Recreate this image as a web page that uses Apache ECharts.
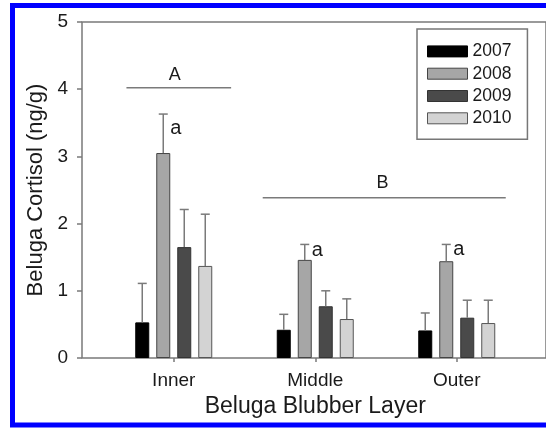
<!DOCTYPE html>
<html>
<head>
<meta charset="utf-8">
<script src="https://cdn.jsdelivr.net/npm/echarts@6/dist/echarts.min.js"></script>
<style>
html,body{margin:0;padding:0;background:#fff;}
#c{width:546px;height:428px;}
</style>
</head>
<body>
<div id="c"></div>
<script>
// ---- data ----
const categories = ['Inner', 'Middle', 'Outer'];
const years = ['2007', '2008', '2009', '2010'];
const mean2007 = [0.53, 0.42, 0.41];
const mean2008 = [3.05, 1.46, 1.44];
const mean2009 = [1.65, 0.77, 0.60];
const mean2010 = [1.37, 0.58, 0.52];
const upper2007 = [1.11, 0.65, 0.67];
const upper2008 = [3.63, 1.69, 1.69];
const upper2009 = [2.21, 1.00, 0.86];
const upper2010 = [2.14, 0.88, 0.86];
const yTicks = [0, 1, 2, 3, 4, 5];
// group annotations (x in category units, y in ng/g)
const groupLabels = ['A', 'B'];
const groupLineFrom = [-0.332, 0.643];
const groupLineTo = [0.417, 2.382];
const groupLineY = [4.02, 2.385];
const groupLabelX = [0.014, 1.5];
const groupLabelY = [4.21, 2.60];
// significance letters (on the 2008 bars)
const sigLabels = ['a', 'a', 'a'];
const sigCats = [0, 1, 2];
const sigY = [3.41, 1.60, 1.61];

const means = [mean2007, mean2008, mean2009, mean2010];
const uppers = [upper2007, upper2008, upper2009, upper2010];
const colors = ['#000000', '#a6a6a6', '#4a4a4a', '#d3d3d3'];
const borders = ['#000000', '#444444', '#333333', '#555555'];
const FONT = 'Liberation Sans, Arial, sans-serif';
const BAR_W = 14, BAR_STEP = 21;

const chart = echarts.init(document.getElementById('c'), null, {renderer: 'canvas'});

const series = [];
years.forEach((y, s) => {
  series.push({
    name: y, type: 'bar', xAxisIndex: 1, yAxisIndex: 1,
    barWidth: BAR_W, barGap: '50%',
    itemStyle: {color: colors[s], borderColor: borders[s], borderWidth: 1},
    data: means[s], z: 2, silent: true
  });
});
years.forEach((y, s) => {
  const off = (s - 1.5) * BAR_STEP;
  series.push({
    name: 'err' + y, type: 'custom', xAxisIndex: 1, yAxisIndex: 1, z: 3, silent: true,
    data: categories.map((c, i) => [i, uppers[s][i], means[s][i]]),
    renderItem: function (params, api) {
      const c = api.value(0);
      const base = api.coord([c, api.value(2)]);
      const top = api.coord([c, api.value(1)]);
      const x = base[0] + off;
      const st = {stroke: '#7a7a7a', lineWidth: 1.5};
      return {type: 'group', children: [
        {type: 'line', shape: {x1: x, y1: base[1], x2: x, y2: top[1]}, style: st},
        {type: 'line', shape: {x1: x - 4.5, y1: top[1], x2: x + 4.5, y2: top[1]}, style: st}
      ]};
    }
  });
});
// group lines + letters
series.push({
  type: 'custom', name: 'groups', xAxisIndex: 0, yAxisIndex: 0, z: 4, silent: true,
  data: groupLabels.map((g, i) => [groupLineFrom[i], groupLineTo[i], groupLineY[i], groupLabelX[i], groupLabelY[i]]),
  renderItem: function (params, api) {
    const p1 = api.coord([api.value(0), api.value(2)]);
    const p2 = api.coord([api.value(1), api.value(2)]);
    const pl = api.coord([api.value(3), api.value(4)]);
    return {type: 'group', children: [
      {type: 'line', shape: {x1: p1[0], y1: p1[1], x2: p2[0], y2: p2[1]}, style: {stroke: '#7a7a7a', lineWidth: 1.5}},
      {type: 'text', x: pl[0], y: pl[1], style: {text: groupLabels[params.dataIndex], fontSize: 18, fontFamily: FONT, fill: '#1a1a1a', align: 'center', verticalAlign: 'middle'}}
    ]};
  }
});
series.push({
  type: 'custom', name: 'sig', xAxisIndex: 1, yAxisIndex: 1, z: 4, silent: true,
  data: sigLabels.map((l, i) => [sigCats[i], sigY[i]]),
  renderItem: function (params, api) {
    const p = api.coord([api.value(0), api.value(1)]);
    return {type: 'text', x: p[0] - 0.5 * BAR_STEP + 7, y: p[1],
      style: {text: sigLabels[params.dataIndex], fontSize: 20, fontFamily: FONT, fill: '#1a1a1a', align: 'left', verticalAlign: 'middle'}};
  }
});

const option = {
  animation: false,
  backgroundColor: '#ffffff',
  textStyle: {fontFamily: FONT},
  graphic: [{
    type: 'rect', silent: true, z: 100,
    shape: {x: 12.5, y: 5.5, width: 600, height: 419.5},
    style: {fill: 'none', stroke: '#0000ff', lineWidth: 5}
  }],
  legend: {
    orient: 'vertical', left: 417, top: 29,
    padding: [13.4, 16, 12, 10],
    borderColor: '#777777', borderWidth: 1.5,
    itemWidth: 40, itemHeight: 11, itemGap: 4.3, itemTextGap: 12,
    textStyle: {fontSize: 17.5, fontFamily: FONT, color: '#1a1a1a'},
    selectedMode: false,
    data: years.map((y, s) => ({name: y, icon: 'rect', itemStyle: {color: colors[s], borderColor: borders[s], borderWidth: 1}}))
  },
  grid: [
    {left: 82, right: -6, top: 22, bottom: 70, show: true, borderColor: '#7a7a7a', borderWidth: 1.5, backgroundColor: 'transparent'},
    {left: 103, width: 424.5, top: 22, bottom: 70}
  ],
  xAxis: [
    {type: 'value', gridIndex: 0, min: -0.65, max: 2.67, show: false, axisLine: {onZero: false}},
    {type: 'category', gridIndex: 1, data: categories,
     axisLine: {show: false, onZero: false},
     axisTick: {show: true, alignWithLabel: true, length: 4, lineStyle: {color: '#7a7a7a', width: 1.5}},
     axisLabel: {fontSize: 19, fontFamily: FONT, color: '#1a1a1a', margin: 13},
     name: 'Beluga Blubber Layer', nameLocation: 'middle', nameGap: 36,
     nameTextStyle: {fontSize: 23, fontFamily: FONT, color: '#1a1a1a'}
    }
  ],
  yAxis: [
    {type: 'value', gridIndex: 0, min: yTicks[0], max: yTicks[yTicks.length - 1], interval: 1,
     position: 'left',
     axisLine: {show: false, onZero: false},
     axisTick: {show: true, length: 5, lineStyle: {color: '#7a7a7a', width: 1.5}},
     axisLabel: {fontSize: 19, fontFamily: FONT, color: '#1a1a1a', margin: 14},
     splitLine: {show: false},
     name: 'Beluga Cortisol (ng/g)', nameLocation: 'middle', nameGap: 34, nameRotate: 90,
     nameTextStyle: {fontSize: 22, fontFamily: FONT, color: '#1a1a1a'}
    },
    {type: 'value', gridIndex: 1, min: 0, max: 5, show: false}
  ],
  series: series
};
chart.setOption(option);
</script>
</body>
</html>
